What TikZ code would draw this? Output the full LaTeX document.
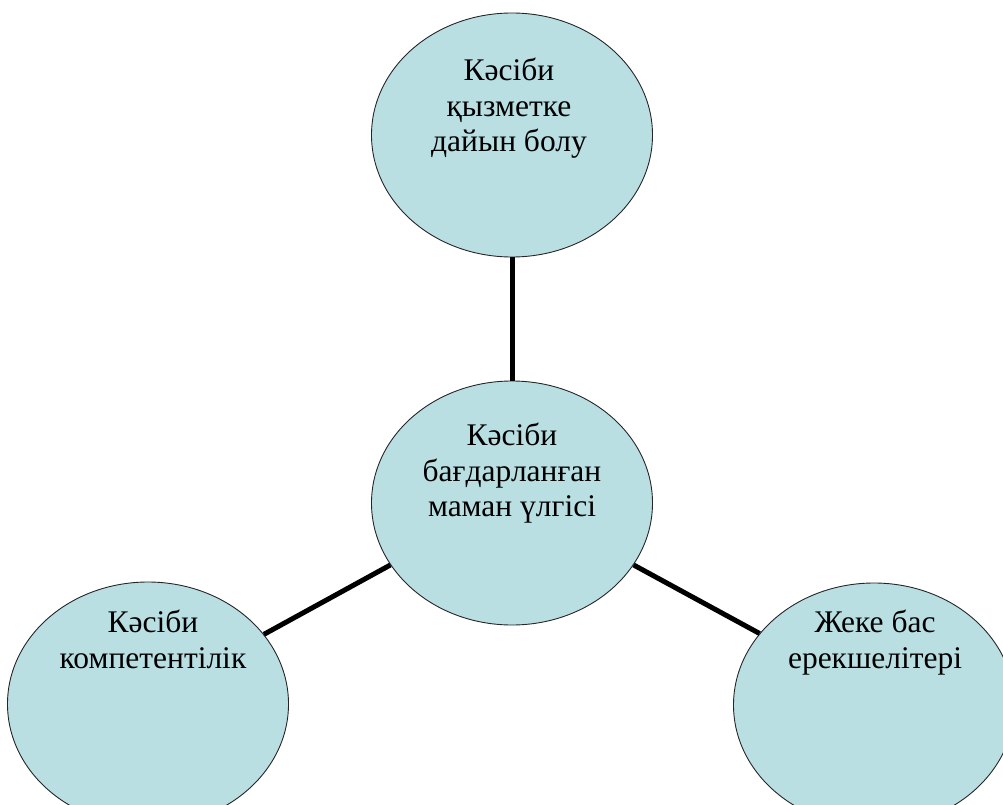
\documentclass[tikz,border=0pt]{standalone}
\usepackage{fontspec}
\setmainfont{Liberation Serif}
\usetikzlibrary{shapes.geometric}
\definecolor{bubble}{HTML}{B9DFE3}
\tikzset{
  bubblenode/.style={ellipse, draw=black!85, line width=0.9pt, fill=bubble,
    minimum width=281pt, minimum height=244pt, inner sep=0pt},
  bubbletext/.style={anchor=north, align=center, inner sep=0pt,
    font=\fontsize{31.5}{35.5}\selectfont},
  link/.style={line width=5pt, black}
}
\begin{document}
\begin{tikzpicture}[x=1pt,y=-1pt]
\useasboundingbox (0,0) rectangle (1003,805);
\clip (0,0) rectangle (1003,805);
\node[bubblenode] (top) at (512,135) {};
\node[bubblenode] (mid) at (512,503) {};
\node[bubblenode] (left) at (148,704) {};
\node[bubblenode] (right) at (874,705) {};
\draw[link] (top.south) -- (mid.north);
\draw[link] (mid.207) -- (left.31);
\draw[link] (mid.333) -- (right.148);
\node[bubbletext] (ttop) at (509,58) {Кәсіби\\қызметке\\дайын болу};
\node[bubbletext] (tmid) at (512,423) {Кәсіби\\бағдарланған\\маман үлгісі};
\node[bubbletext] (tleft) at (153,610) {Кәсіби\\компетентілік};
\node[bubbletext] (tright) at (875,610) {Жеке бас\\ерекшелітері};
\end{tikzpicture}
\end{document}
